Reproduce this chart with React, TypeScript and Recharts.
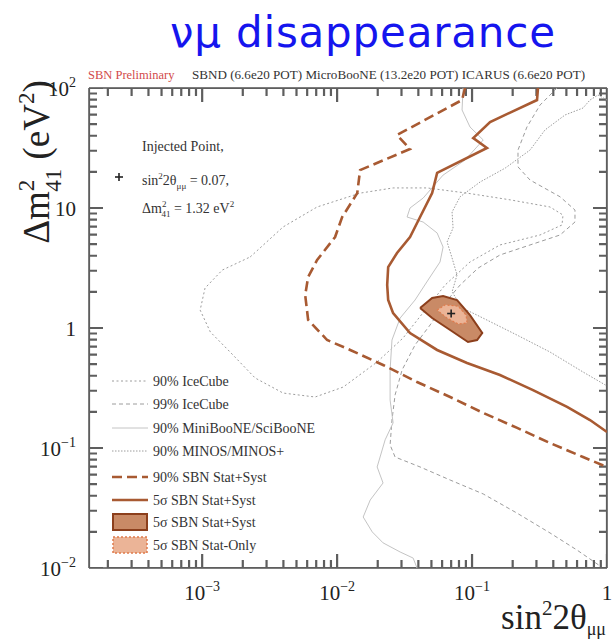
import React from 'react';
import { ScatterChart, Scatter, XAxis, YAxis, Legend } from 'recharts';

type Pt = [number, number];

// axis ranges: sin^2(2θμμ) horizontally, Δm²41 (eV²) vertically
const X_MIN = 1.45e-4;
const X_MAX = 1;
const Y_MIN = 0.01;
const Y_MAX = 100;

// SBN sensitivity contours
const sbn90Dashed: Pt[] = [
  [0.0887, 100], [0.0843, 79.4], [0.0278, 40.6], [0.0347, 31.0], [0.0148, 20.7], [0.0141, 13.3],
  [0.0109, 8.41], [0.00966, 5.73], [0.00711, 3.69], [0.0061, 2.66], [0.0058, 1.88], [0.0061, 1.17],
  [0.00843, 0.794], [0.0125, 0.656], [0.0219, 0.492], [0.0391, 0.355], [0.0688, 0.266], [0.121, 0.196],
  [0.216, 0.147], [0.378, 0.11], [0.664, 0.0841], [1, 0.0695],
];
const sbn5Solid: Pt[] = [
  [0.308, 100], [0.303, 79.4], [0.136, 52.1], [0.102, 38.3], [0.129, 31.6], [0.0551, 19.6], [0.0506, 13.3],
  [0.0412, 8.41], [0.0347, 5.73], [0.0278, 4.22], [0.0239, 3.22], [0.0235, 2.28], [0.0239, 1.71],
  [0.026, 1.33], [0.0347, 0.908], [0.0551, 0.656], [0.0918, 0.511], [0.161, 0.406], [0.283, 0.304],
  [0.506, 0.22], [0.748, 0.171], [1, 0.136],
];
const sbn5Island: Pt[] = [
  [0.0412, 1.47], [0.0506, 1.78], [0.061, 1.85], [0.0774, 1.71], [0.0966, 1.28], [0.119, 0.908],
  [0.109, 0.794], [0.0933, 0.764], [0.0688, 0.962], [0.0506, 1.21], [0.0412, 1.47],
];
const sbn5StatOnly: Pt[] = [
  [0.0551, 1.41], [0.0631, 1.56], [0.0788, 1.52], [0.0903, 1.28], [0.0918, 1.1], [0.0788, 1.08],
  [0.0653, 1.21], [0.0551, 1.41],
];
const injectedPoint: Pt[] = [[0.07, 1.32]];

// existing limits
const iceCube90: Pt[] = [
  [0.00227, 3.91], [0.00398, 6.95], [0.00711, 10.2], [0.0148, 13.3], [0.026, 14.7], [0.0464, 14.7],
  [0.0918, 13.3], [0.191, 11.7], [0.378, 10.2], [0.472, 8.74], [0.464, 7.22], [0.319, 5.96], [0.161, 4.92],
  [0.0966, 3.55], [0.0631, 2.28], [0.0449, 1.41], [0.0308, 0.825], [0.0198, 0.521], [0.0111, 0.322],
  [0.00687, 0.266], [0.00398, 0.287], [0.00247, 0.383], [0.00161, 0.631], [0.00115, 0.926],
  [0.000966, 1.41], [0.00105, 2.15], [0.00141, 3.04], [0.00227, 3.91],
];
const iceCube99: Pt[] = [
  [0.426, 100], [0.319, 72.1], [0.255, 47.3], [0.219, 30.4], [0.219, 22.0], [0.269, 17.1], [0.449, 12.4],
  [0.579, 9.62], [0.579, 7.64], [0.449, 5.96], [0.269, 4.92], [0.161, 4.06], [0.111, 3.16], [0.0815, 2.28],
  [0.0631, 1.62], [0.0489, 1.06], [0.0378, 0.722], [0.0303, 0.447], [0.0269, 0.277], [0.0255, 0.171],
  [0.0247, 0.106], [0.0269, 0.0841], [0.0412, 0.0695], [0.0688, 0.0541], [0.121, 0.0414], [0.215, 0.0287],
  [0.378, 0.0196], [0.6, 0.0141], [0.888, 0.0104],
];
const miniSciBooNE90: Pt[] = [
  [0.0858, 100], [0.0843, 65.6], [0.0966, 47.3], [0.121, 36.9], [0.0887, 25.1], [0.061, 18.8], [0.0434, 12.1],
  [0.0347, 10.0], [0.033, 8.41], [0.0434, 7.64], [0.0551, 6.19], [0.061, 4.73], [0.0579, 3.55], [0.0472, 2.51],
  [0.0378, 1.71], [0.0293, 1.21], [0.0255, 0.794], [0.0247, 0.447], [0.0247, 0.251], [0.026, 0.162],
  [0.0227, 0.117], [0.0198, 0.0695], [0.0219, 0.0511], [0.0176, 0.0369], [0.0156, 0.0266], [0.0182, 0.02],
  [0.0219, 0.0162], [0.0293, 0.0136], [0.0366, 0.0121], [0.0391, 0.01],
];
const minos90: Pt[] = [
  [1, 79.4], [0.858, 87.4], [0.748, 79.4], [0.664, 68.1], [0.489, 59.6], [0.347, 44.7], [0.269, 30.4],
  [0.176, 21.5], [0.115, 16.5], [0.0815, 12.4], [0.0711, 9.26], [0.0723, 6.81], [0.0653, 5.21], [0.0711, 3.83],
  [0.0774, 2.77], [0.0711, 2.0], [0.0843, 1.47], [0.109, 1.28], [0.215, 0.874], [0.378, 0.631], [0.664, 0.43],
  [1, 0.329],
];

const legendLabels = [
  '90% IceCube',
  '99% IceCube',
  '90% MiniBooNE/SciBooNE',
  '90% MINOS/MINOS+',
  '90% SBN Stat+Syst',
  '5σ SBN Stat+Syst',
  '5σ SBN Stat+Syst',
  '5σ SBN Stat-Only',
];

const SERIF = '"Liberation Serif", "Times New Roman", serif';
const FRAME = '#7c7c7c';
const TICK = '#5e5e5e';
const BROWN = '#a85a32';
const GREY = '#9c9c9c';
const ISLAND_FILL = '#c98a66';
const ISLAND_EDGE = '#8c3f1c';
const STAT_FILL = '#ebb497';
const STAT_EDGE = '#e07b4c';

const rows = (pts: Pt[]) => pts.map(([x, y]) => ({ x, y }));

// 1..9 x 10^n tick positions across a log range
const logTicks = (lo: number, hi: number) => {
  const out: number[] = [];
  for (let e = Math.floor(Math.log10(lo)); e <= Math.ceil(Math.log10(hi)); e++) {
    for (let m = 1; m < 10; m++) {
      const v = Number((m * Math.pow(10, e)).toPrecision(3));
      if (v >= lo * 0.999 && v <= hi * 1.001) out.push(v);
    }
  }
  return out;
};
const xTicks = logTicks(X_MIN, X_MAX);
const yTicks = logTicks(Y_MIN, Y_MAX);

const isMajor = (v: number) => Math.abs(Math.log10(v) - Math.round(Math.log10(v))) < 1e-6;

// tick lengths in pixels, turned into a factor along the log axis
const PLOT_W = 518;
const PLOT_H = 480;
const MAJOR_LEN = 14;
const MINOR_LEN = 8;
const xTickLen = (v: number) =>
  Math.pow(Y_MAX / Y_MIN, (isMajor(v) ? MAJOR_LEN : MINOR_LEN) / PLOT_H);
const yTickLen = (v: number) =>
  Math.pow(X_MAX / X_MIN, (isMajor(v) ? MAJOR_LEN : MINOR_LEN) / PLOT_W);

// inward tick combs: each tick goes out from the frame and back along the same line
const combBottom = xTicks.flatMap((v) => [
  { x: v, y: Y_MIN }, { x: v, y: Y_MIN * xTickLen(v) }, { x: v, y: Y_MIN },
]);
const combTop = xTicks.flatMap((v) => [
  { x: v, y: Y_MAX }, { x: v, y: Y_MAX / xTickLen(v) }, { x: v, y: Y_MAX },
]);
const combLeft = yTicks.flatMap((v) => [
  { x: X_MIN, y: v }, { x: X_MIN * yTickLen(v), y: v }, { x: X_MIN, y: v },
]);
const combRight = yTicks.flatMap((v) => [
  { x: X_MAX, y: v }, { x: X_MAX / yTickLen(v), y: v }, { x: X_MAX, y: v },
]);

const powerLabel = (v: number) => {
  const e = Math.round(Math.log10(v));
  if (e === 0) return { base: '1', exp: '' };
  if (e === 1) return { base: '10', exp: '' };
  return { base: '10', exp: e < 0 ? `\u2212${-e}` : `${e}` };
};

const TickText = ({ x, y, v, anchor }: { x: number; y: number; v: number; anchor: 'middle' | 'end' }) => {
  const { base, exp } = powerLabel(v);
  return (
    <text x={x} y={y} textAnchor={anchor} fontFamily={SERIF} fontSize={21} fill="#222">
      {base}
      {exp && (
        <tspan dy={-9} fontSize={14}>
          {exp}
        </tspan>
      )}
    </text>
  );
};

// tick labels only; the marks themselves are the comb series
const BottomLabel = (p: any) =>
  isMajor(p.payload.value) ? <TickText x={p.x} y={p.y + 24} v={p.payload.value} anchor="middle" /> : <g />;
const LeftLabel = (p: any) =>
  isMajor(p.payload.value) ? <TickText x={p.x - 5} y={p.y + 8} v={p.payload.value} anchor="end" /> : <g />;

const noDot = () => <g />;

const Star = (p: any) => (
  <g stroke="#222" strokeWidth={1.6}>
    <line x1={p.cx - 4} x2={p.cx + 4} y1={p.cy} y2={p.cy} />
    <line x1={p.cx} x2={p.cx} y1={p.cy - 4} y2={p.cy + 4} />
  </g>
);

const LEGEND_ROWS = [13, 36, 60, 83, 109, 132, 154, 177];

const LegendSample = ({ i, y }: { i: number; y: number }) => {
  switch (i) {
    case 0:
      return <line x1={4} x2={40} y1={y} y2={y} stroke={GREY} strokeWidth={1} strokeDasharray="2 2.5" />;
    case 1:
      return <line x1={4} x2={40} y1={y} y2={y} stroke={GREY} strokeWidth={1} strokeDasharray="4 3" />;
    case 2:
      return <line x1={4} x2={40} y1={y} y2={y} stroke="#c4c4c4" strokeWidth={1} />;
    case 3:
      return <line x1={4} x2={40} y1={y} y2={y} stroke={GREY} strokeWidth={1} strokeDasharray="1.5 1.5" />;
    case 4:
      return <line x1={4} x2={40} y1={y} y2={y} stroke={BROWN} strokeWidth={2.5} strokeDasharray="10 5" />;
    case 5:
      return <line x1={4} x2={40} y1={y} y2={y} stroke={BROWN} strokeWidth={2.5} />;
    case 6:
      return <rect x={5} y={y - 8} width={34} height={16} fill={ISLAND_FILL} stroke={ISLAND_EDGE} strokeWidth={2} />;
    default:
      return (
        <rect x={5} y={y - 8} width={34} height={16} fill={STAT_FILL} stroke={STAT_EDGE} strokeWidth={1.5} strokeDasharray="2 2" />
      );
  }
};

const LegendBox = () => (
  <svg width={240} height={190} style={{ display: 'block' }}>
    {legendLabels.map((label, i) => (
      <g key={i}>
        <LegendSample i={i} y={LEGEND_ROWS[i]} />
        <text x={45} y={LEGEND_ROWS[i] + 5} fontFamily={SERIF} fontSize={14} fill="#333">
          {label}
        </text>
      </g>
    ))}
  </svg>
);

const series = (
  id: string,
  data: { x: number; y: number }[],
  line: Record<string, string | number>,
) => (
  <Scatter
    key={id}
    name={id}
    xAxisId="b"
    yAxisId="l"
    data={data}
    line={line}
    shape={noDot}
    legendType="none"
    isAnimationActive={false}
  />
);

const comb = { stroke: TICK, strokeWidth: 2.2 };
const axisLine = { stroke: FRAME, strokeWidth: 2 };

export default function App() {
  return (
    <div style={{ position: 'absolute', left: 0, top: 0, width: 615, height: 643, background: '#fff' }}>
      <ScatterChart width={615} height={643} margin={{ top: 78, right: 0, bottom: 65, left: 79 }}>
        <XAxis
          xAxisId="b"
          type="number"
          dataKey="x"
          scale="log"
          domain={[X_MIN, X_MAX]}
          allowDataOverflow
          ticks={xTicks}
          interval={0}
          tick={BottomLabel}
          tickLine={false}
          height={10}
          axisLine={axisLine}
        />
        <XAxis
          xAxisId="t"
          orientation="top"
          type="number"
          dataKey="x"
          scale="log"
          domain={[X_MIN, X_MAX]}
          allowDataOverflow
          tick={false}
          tickLine={false}
          height={10}
          axisLine={axisLine}
        />
        <YAxis
          yAxisId="l"
          type="number"
          dataKey="y"
          scale="log"
          domain={[Y_MIN, Y_MAX]}
          allowDataOverflow
          ticks={yTicks}
          interval={0}
          tick={LeftLabel}
          tickLine={false}
          width={10}
          axisLine={axisLine}
        />
        <YAxis
          yAxisId="r"
          orientation="right"
          type="number"
          dataKey="y"
          scale="log"
          domain={[Y_MIN, Y_MAX]}
          allowDataOverflow
          tick={false}
          tickLine={false}
          width={8}
          axisLine={axisLine}
        />

        {series('combBottom', combBottom, comb)}
        {series('combTop', combTop, comb)}
        {series('combLeft', combLeft, comb)}
        {series('combRight', combRight, comb)}

        {series('iceCube90', rows(iceCube90), { stroke: GREY, strokeWidth: 1, strokeDasharray: '2 2.5' })}
        {series('iceCube99', rows(iceCube99), { stroke: GREY, strokeWidth: 1, strokeDasharray: '4 3' })}
        {series('miniSciBooNE90', rows(miniSciBooNE90), { stroke: '#c4c4c4', strokeWidth: 1 })}
        {series('minos90', rows(minos90), { stroke: GREY, strokeWidth: 1, strokeDasharray: '1.5 1.5' })}
        {series('sbn90', rows(sbn90Dashed), { stroke: BROWN, strokeWidth: 2.6, strokeDasharray: '10 5' })}
        {series('sbn5', rows(sbn5Solid), { stroke: BROWN, strokeWidth: 2.6 })}
        {series('sbn5Island', rows(sbn5Island), { stroke: ISLAND_EDGE, strokeWidth: 2, fill: ISLAND_FILL })}
        {series('sbn5StatOnly', rows(sbn5StatOnly), {
          stroke: STAT_EDGE,
          strokeWidth: 1.2,
          strokeDasharray: '2 2',
          fill: STAT_FILL,
        })}
        <Scatter
          name="injected"
          xAxisId="b"
          yAxisId="l"
          data={rows(injectedPoint)}
          shape={Star}
          legendType="none"
          isAnimationActive={false}
        />

        <Legend
          layout="vertical"
          align="center"
          verticalAlign="middle"
          wrapperStyle={{ left: 108, top: 368, width: 240, height: 190 }}
          content={() => <LegendBox />}
        />
      </ScatterChart>

      <svg
        width={615}
        height={643}
        style={{ position: 'absolute', left: 0, top: 0, pointerEvents: 'none' }}
        fontFamily={SERIF}
      >
        <text x={170} y={47} fontFamily='"DejaVu Sans", sans-serif' fontSize={42} fill="#1515ee" textLength={385}>
          νμ disappearance
        </text>

        <text x={88} y={79} fontSize={12.5} fill="#d24a4a">
          SBN Preliminary
        </text>
        <text x={192} y={79} fontSize={12.5} fill="#333" textLength={393} lengthAdjust="spacingAndGlyphs">
          SBND (6.6e20 POT) MicroBooNE (13.2e20 POT) ICARUS (6.6e20 POT)
        </text>

        <text transform="translate(49,162) rotate(-90)" textAnchor="middle" fontSize={37} fill="#222">
          Δm
          <tspan dy={-15} fontSize={23}>2</tspan>
          <tspan dx={-12} dy={27} fontSize={23}>41</tspan>
          <tspan dy={-12}> (eV</tspan>
          <tspan dy={-15} fontSize={23}>2</tspan>
          <tspan dy={15}>)</tspan>
        </text>

        <text x={606} y={629} textAnchor="end" fontSize={35} fill="#222">
          sin
          <tspan dy={-14} fontSize={21}>2</tspan>
          <tspan dy={14}>2θ</tspan>
          <tspan dy={6} fontSize={18}>μμ</tspan>
        </text>

        <g stroke="#222" strokeWidth={1.6}>
          <line x1={115} x2={123} y1={177} y2={177} />
          <line x1={119} x2={119} y1={173} y2={181} />
        </g>
        <g fontSize={14} fill="#333">
          <text x={142} y={151}>Injected Point,</text>
          <text x={142} y={185}>
            sin<tspan dy={-6} fontSize={9}>2</tspan>
            <tspan dy={6}>2θ</tspan>
            <tspan dy={4} fontSize={9}>μμ</tspan>
            <tspan dy={-4}> = 0.07,</tspan>
          </text>
          <text x={142} y={213}>
            Δm<tspan dy={-6} fontSize={9}>2</tspan>
            <tspan dx={-5} dy={10} fontSize={9}>41</tspan>
            <tspan dy={-4}> = 1.32 eV</tspan>
            <tspan dy={-6} fontSize={9}>2</tspan>
          </text>
        </g>
      </svg>
    </div>
  );
}
